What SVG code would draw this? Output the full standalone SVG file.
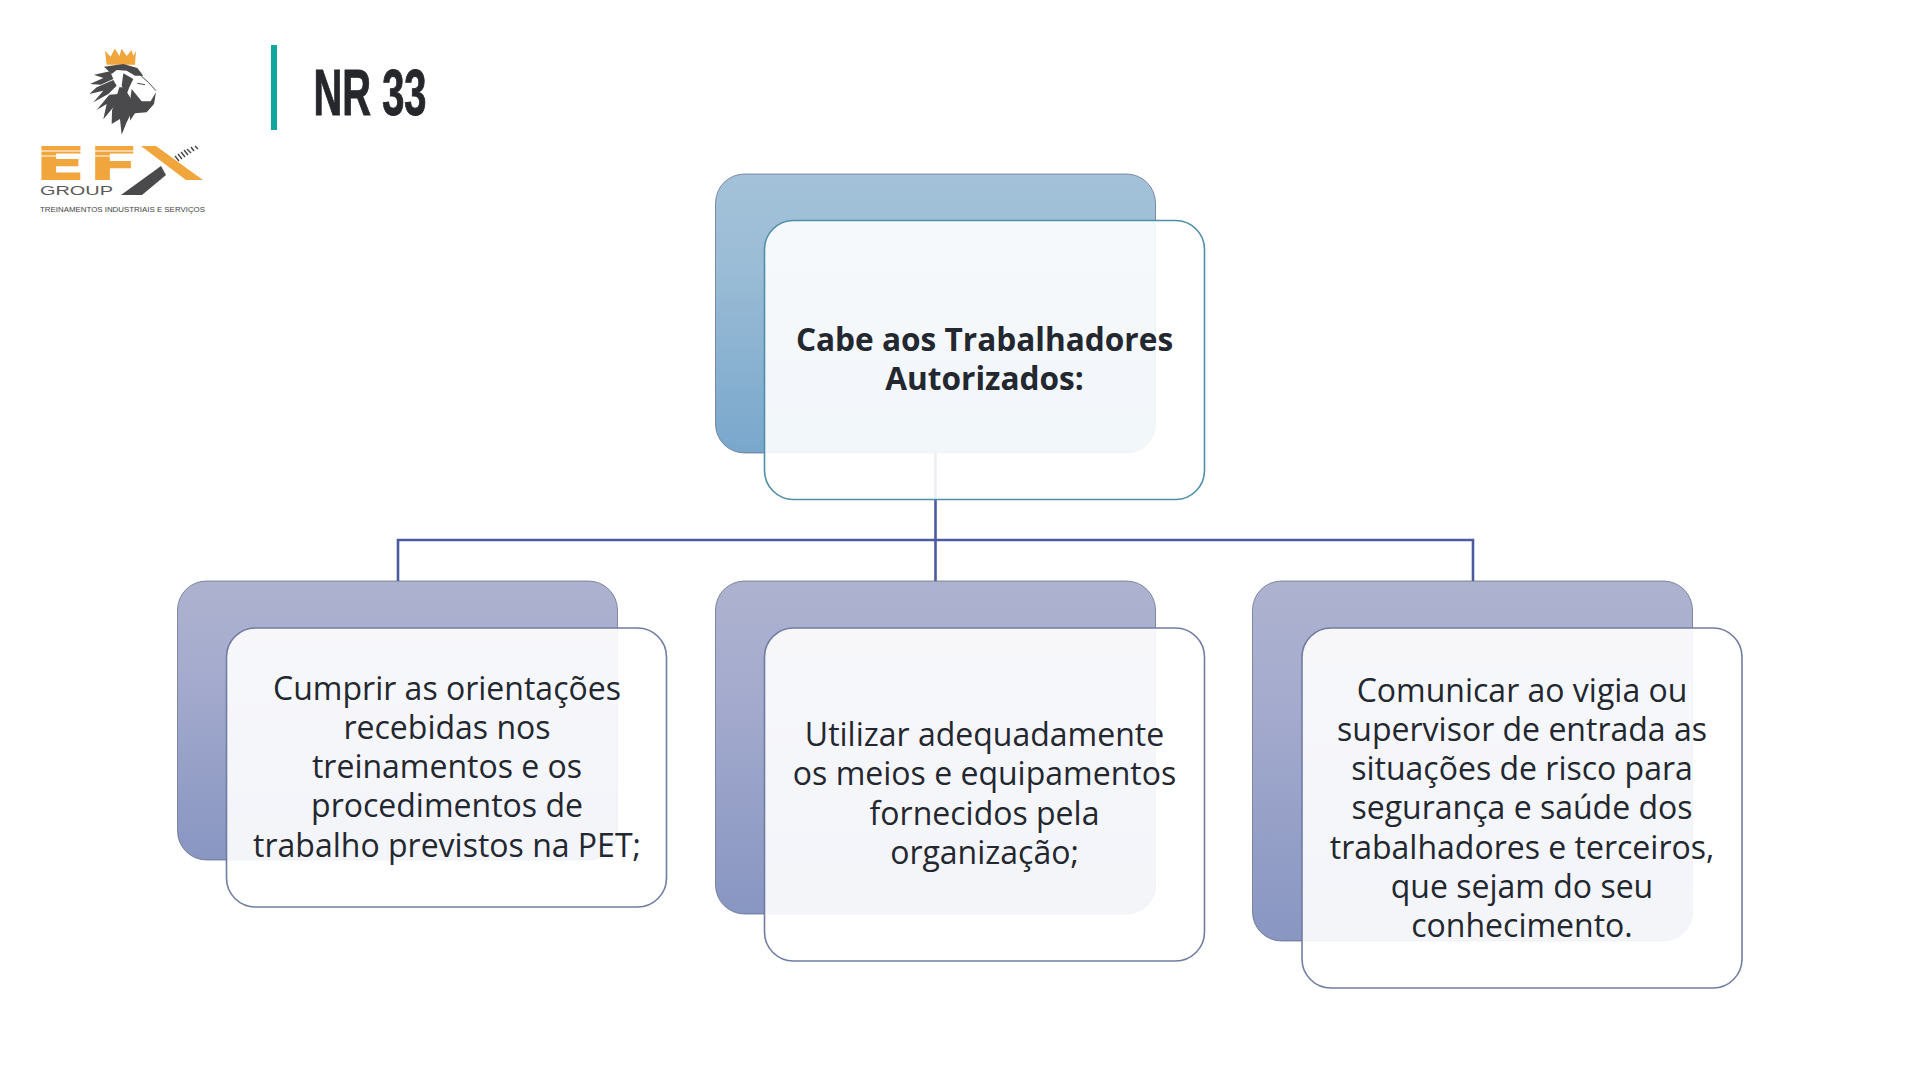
<svg xmlns="http://www.w3.org/2000/svg" width="1920" height="1080" viewBox="0 0 1920 1080">
<style>
.t{font-family:"Open Sans","Noto Sans",sans-serif;font-size:32px;fill:#23272f;text-anchor:middle}
.b{font-weight:700;font-size:31.600px}
.back{stroke:#5c6780;stroke-width:1;stroke-opacity:.7}
.front{fill:#fff;fill-opacity:.9;stroke-width:1.6}
.fb{stroke:#4f8fa8}
.fp{stroke:#717ca3}
.conn{fill:none;stroke:#4c5ba0;stroke-width:2.6}
.lion{fill:#4a4a4c}
</style>
<defs>
<linearGradient id="gb" x1="0" y1="0" x2="0" y2="1"><stop offset="0" stop-color="#a3c2da"/><stop offset=".3" stop-color="#9cbdd6"/><stop offset="1" stop-color="#79a7cc"/></linearGradient>
<linearGradient id="gp" x1="0" y1="0" x2="0" y2="1"><stop offset="0" stop-color="#adb2cf"/><stop offset=".3" stop-color="#a6acce"/><stop offset="1" stop-color="#8896c2"/></linearGradient>
</defs>
<rect width="1920" height="1080" fill="#fff"/>

<g id="logo">
<g transform="translate(80,44) scale(.3333)">
<polygon fill="#f0a63c" points="75,20 92,38 100,22 105,14 118,36 125,14 140,36 155,18 160,36 168,20 165,62 80,62"/>
<g class="lion">
<polygon points="72,68 130,60 172,72 190,95 165,95 140,80 110,78 95,90"/>
<polygon points="90,82 42,92 70,102 30,120 62,122 100,105"/>
<polygon points="100,108 50,130 28,150 70,140 40,175 85,150 110,125"/>
<polygon points="88,152 50,198 80,180 70,226 100,190 115,150"/>
<polygon points="118,130 96,200 95,240 120,225 125,272 140,235 155,205 170,205 150,160 132,130"/>
<polygon points="130,88 160,105 150,125 140,150 125,125"/>
<polygon points="155,135 185,172 212,172 228,145 222,180 200,205 165,208 150,230 150,170"/>
</g>
<g fill="none" stroke="#4a4a4c" stroke-width="3"><polyline points="175,88 205,115 228,140"/><polyline points="172,118 195,122"/></g>
</g>
<text x="0" y="0" transform="translate(38,180) scale(1.58,1)" font-family="Inter,'Liberation Sans',sans-serif" font-weight="900" font-size="47" fill="#f0a63c"><tspan x="0">E</tspan><tspan x="34">F</tspan><tspan x="65">X</tspan></text>
<g stroke="#fff" stroke-width="1.2"><line x1="38" y1="151" x2="139" y2="151"/><line x1="38" y1="156" x2="139" y2="156"/></g>
<rect x="138" y="142" width="70" height="42" fill="#fff"/>
<polygon fill="#f0a63c" points="141,146 156,146 203,180 186,180"/>
<polygon class="lion" points="121,195 161,166 166,175 142,195"/>
<g stroke="#4a4a4c" stroke-width="1.5"><line x1="175" y1="156" x2="179" y2="161"/><line x1="178" y1="154" x2="182" y2="159"/><line x1="181" y1="152" x2="185" y2="157"/><line x1="184" y1="150" x2="188" y2="155"/><line x1="187" y1="149" x2="191" y2="153"/><line x1="191" y1="147" x2="194" y2="151"/><line x1="195" y1="146" x2="198" y2="149"/></g>
<text x="40" y="195" font-family="'Liberation Sans',sans-serif" font-size="12" fill="#5a5a5c" textLength="73" lengthAdjust="spacingAndGlyphs">GROUP</text>
<text x="40" y="212" font-family="'Liberation Sans',sans-serif" font-size="7.5" fill="#444" textLength="165" lengthAdjust="spacingAndGlyphs">TREINAMENTOS INDUSTRIAIS E SERVIÇOS</text>
</g>

<g id="title">
<rect x="271" y="45" width="6" height="85" fill="#12a79c"/>
<text x="313.500" y="115" font-family="'Liberation Sans Narrow','Liberation Sans',sans-serif" font-weight="700" font-size="65" fill="#26272b" stroke="#26272b" stroke-width="1" textLength="113" lengthAdjust="spacingAndGlyphs">NR 33</text>
</g>

<g id="connectors">
<path class="conn" d="M935.500 453V581M398 581V540H1473V581"/>
</g>

<g id="node-top">
<rect class="back" x="715.500" y="174" width="440" height="279" rx="29" fill="url(#gb)"/>
<rect class="front fb" x="764.500" y="220.500" width="440" height="279" rx="29"/>
<text class="t b"><tspan x="984.500" y="351">Cabe aos Trabalhadores</tspan><tspan x="984.500" y="390">Autorizados:</tspan></text>
</g>

<g id="node-left">
<rect class="back" x="177.500" y="581" width="440" height="279" rx="29" fill="url(#gp)"/>
<rect class="front fp" x="226.500" y="628" width="440" height="279" rx="29"/>
<text class="t"><tspan x="447" y="699.500">Cumprir as orientações</tspan><tspan x="447" y="738.500">recebidas nos</tspan><tspan x="447" y="778">treinamentos e os</tspan><tspan x="447" y="817">procedimentos de</tspan><tspan x="447" y="856.500">trabalho previstos na PET;</tspan></text>
</g>

<g id="node-middle">
<rect class="back" x="715.500" y="581" width="440" height="333" rx="29" fill="url(#gp)"/>
<rect class="front fp" x="764.500" y="628" width="440" height="333" rx="29"/>
<text class="t"><tspan x="984.500" y="746">Utilizar adequadamente</tspan><tspan x="984.500" y="785">os meios e equipamentos</tspan><tspan x="984.500" y="825">fornecidos pela</tspan><tspan x="984.500" y="864">organização;</tspan></text>
</g>

<g id="node-right">
<rect class="back" x="1252.500" y="581" width="440" height="360" rx="29" fill="url(#gp)"/>
<rect class="front fp" x="1302" y="628" width="440" height="360" rx="29"/>
<text class="t"><tspan x="1522" y="701.500">Comunicar ao vigia ou</tspan><tspan x="1522" y="740.500">supervisor de entrada as</tspan><tspan x="1522" y="780">situações de risco para</tspan><tspan x="1522" y="819">segurança e saúde dos</tspan><tspan x="1522" y="858.500">trabalhadores e terceiros,</tspan><tspan x="1522" y="898">que sejam do seu</tspan><tspan x="1522" y="937">conhecimento.</tspan></text>
</g>
</svg>
